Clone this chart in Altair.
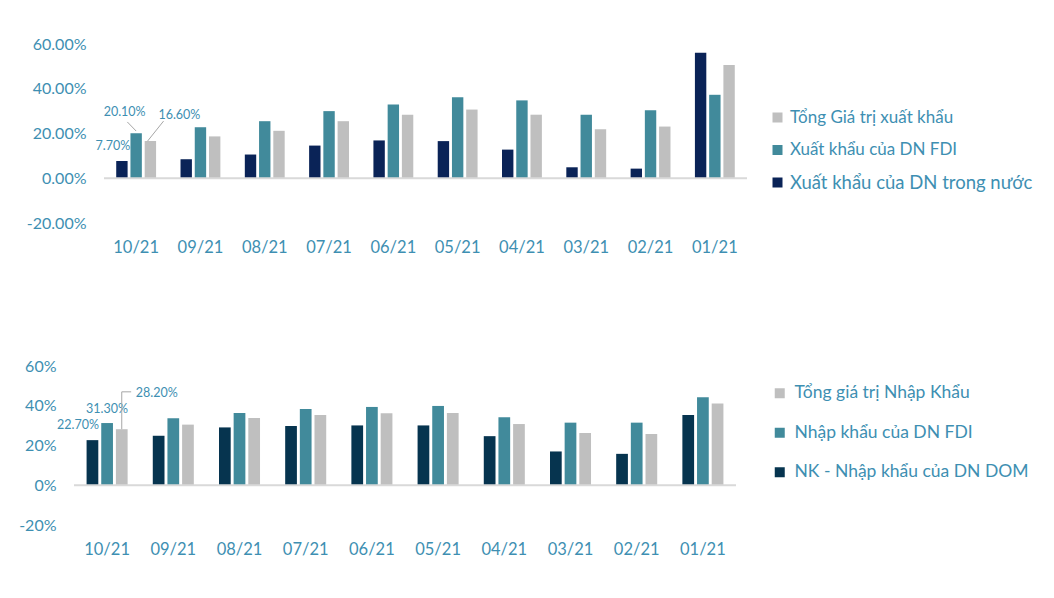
import altair as alt
import pandas as pd

months = ["10/21", "09/21", "08/21", "07/21", "06/21", "05/21", "04/21", "03/21", "02/21", "01/21"]

# Export growth (%)
exp_names = ["Tổng Giá trị xuất khẩu", "Xuất khẩu của DN FDI", "Xuất khẩu của DN trong nước"]
exp_total = [16.6, 18.7, 21.2, 25.5, 28.4, 30.7, 28.4, 21.9, 23.1, 50.6]
exp_fdi = [20.1, 22.8, 25.5, 30.0, 33.0, 36.2, 34.8, 28.4, 30.4, 37.3]
exp_dom = [7.7, 8.5, 10.6, 14.6, 16.9, 16.6, 12.8, 4.9, 4.3, 56.1]

# Import growth (%)
imp_names = ["Tổng giá trị Nhập Khẩu", "Nhập khẩu của DN FDI", "NK - Nhập khẩu của DN DOM"]
imp_total = [28.2, 30.5, 33.8, 35.4, 36.2, 36.4, 30.8, 26.3, 25.8, 41.1]
imp_fdi = [31.3, 33.7, 36.4, 38.4, 39.4, 39.9, 34.2, 31.5, 31.5, 44.3]
imp_dom = [22.7, 24.9, 29.1, 29.8, 30.1, 30.1, 24.7, 17.0, 15.8, 35.4]

GREY = "#BFBFBF"
TEAL = "#418A9B"
NAVY_TOP = "#0A2357"
NAVY_BOT = "#06344F"
TXT = "#3E8FB2"
FONT = "Lato"

SUB = 0.2214  # distance between bar centers, in category steps


def long_df(names, total, fdi, dom):
    rows = []
    # order inside a group: domestic, FDI, total
    for k, (name, vals) in enumerate([(names[2], dom), (names[1], fdi), (names[0], total)]):
        for i, m in enumerate(months):
            rows.append({"month": m, "idx": i, "series": name, "k": k,
                         "value": vals[i], "pos": i + (k - 1) * SUB})
    return pd.DataFrame(rows)


def build(names, total, fdi, dom, navy, w, h, shift, ydomain, yvals, yfmt, legend_cfg,
          labels, leaders):
    df = long_df(names, total, fdi, dom)
    order = [names[2], names[1], names[0]]
    W = w + shift
    rng = [shift, W]
    qscale = alt.Scale(domain=[-0.5, 9.5], nice=False, zero=False, range=rng)
    yscale = alt.Scale(domain=ydomain, nice=False)
    yaxis = alt.Axis(title=None, values=yvals, labelExpr=yfmt, grid=False,
                     domain=False, ticks=False, labelPadding=18,
                     labelOverlap=False, offset=-shift,
                     labelFontSize=16, labelColor=TXT, labelFont=FONT)
    bars = alt.Chart(df).mark_bar().encode(
        x=alt.X("month:N", sort=months,
                scale=alt.Scale(paddingInner=0.38, paddingOuter=0.19, range=rng),
                axis=alt.Axis(title=None, labelAngle=0, domain=False, ticks=False,
                              labelPadding=16, labelFontSize=16.5, labelColor=TXT,
                              labelFont=FONT, grid=False)),
        xOffset=alt.XOffset("series:N", sort=order,
                            scale=alt.Scale(paddingInner=0.2, paddingOuter=0)),
        y=alt.Y("value:Q", scale=yscale, axis=yaxis),
        color=alt.Color("series:N",
                        scale=alt.Scale(domain=[names[0], names[1], names[2]],
                                        range=[GREY, TEAL, navy]),
                        sort=[names[0], names[1], names[2]],
                        legend=alt.Legend(title=None, orient="none", symbolType="square",
                                          symbolStrokeWidth=0, labelColor=TXT,
                                          labelLimit=400,
                                          labelFont=FONT, **legend_cfg)),
    )
    zero = alt.Chart(pd.DataFrame({"a": [-0.5], "b": [9.5], "z": [0]})).mark_rule(
        color="#D9D9D9", strokeWidth=2).encode(
        x=alt.X("a:Q", scale=qscale, axis=None), x2="b:Q",
        y=alt.Y("z:Q", scale=yscale, axis=yaxis))

    xq = alt.X("pos:Q", scale=qscale, axis=None)
    ann_layers = []
    for (series, dx, dy) in labels:
        d = df[(df["idx"] == 0) & (df["series"] == series)]
        ann_layers.append(
            alt.Chart(d).transform_calculate(
                label="format(datum.value, '.2f') + '%'"
            ).mark_text(fontSize=12.5, font=FONT, color=TXT, dx=dx, dy=dy,
                        align="center", baseline="middle").encode(
                x=xq, y=alt.Y("value:Q", scale=yscale, axis=yaxis), text="label:N")
        )
    for (series, sx, sy, ex, ey) in leaders:
        d = df[(df["idx"] == 0) & (df["series"] == series)]
        ann_layers.append(
            alt.Chart(d).transform_calculate(
                x1=f"datum.pos + {sx}", y1=f"datum.value + {sy}",
                x2=f"datum.pos + {ex}", y2=f"datum.value + {ey}"
            ).mark_rule(color="#A6A6A6", strokeWidth=1).encode(
                x=alt.X("x1:Q", scale=qscale, axis=None),
                x2="x2:Q", y=alt.Y("y1:Q", scale=yscale, axis=yaxis), y2="y2:Q")
        )
    ann = alt.layer(*ann_layers)
    return alt.layer(bars, zero, ann).resolve_scale(x="independent").properties(
        width=W, height=h)


def pct(decimals):
    return (f"(datum.value < 0 ? '-' : '') + format(abs(datum.value), '.{decimals}f') + '%'")


top = build(
    exp_names, exp_total, exp_fdi, exp_dom, NAVY_TOP, 643, 179, 30, [-20, 60],
    [-20, 0, 20, 40, 60], pct(2),
    dict(legendX=695, legendY=65, symbolSize=100, rowPadding=14.5, labelOffset=4,
         labelFontSize={"expr": "datum.label == 'Xuất khẩu của DN trong nước' ? 18.5 : 17"}),
    labels=[(exp_names[2], -9, -15), (exp_names[1], -11.5, -21.5), (exp_names[0], 29, -26)],
    leaders=[(exp_names[1], 0.0, 1.0, -0.137, 5.06), (exp_names[0], -0.044, 0.0, 0.205, 8.95)],
)

bottom = build(
    imp_names, imp_total, imp_fdi, imp_dom, NAVY_BOT, 662, 159, 0, [-20, 60],
    [-20, 0, 20, 40, 60], pct(0),
    dict(legendX=697, legendY=18.5, symbolSize=100, rowPadding=20.5, labelOffset=6,
         labelFontSize=17.5),
    labels=[(imp_names[2], -14.5, -15), (imp_names[1], 0, -14), (imp_names[0], 35, -36)],
    leaders=[(imp_names[0], 0.0, 0.0, 0.0, 18.8), (imp_names[0], 0.0, 18.8, 0.142, 18.8)],
)

chart = alt.concat(top, bottom, columns=1, spacing=102, align="none").resolve_scale(
    x="independent", y="independent", xOffset="independent", color="independent"
).properties(
    padding={"left": 10, "top": 28, "right": 0, "bottom": 5}
).configure_view(stroke=None)

chart.save("out.html", embed_options={"renderer": "svg", "actions": False})
